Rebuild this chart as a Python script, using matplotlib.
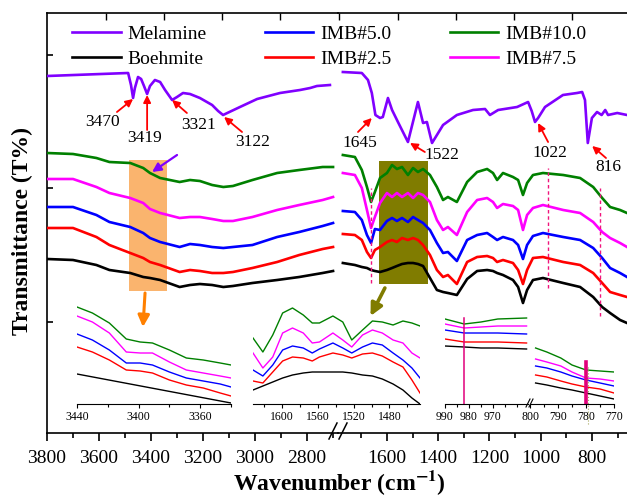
"""
FTIR spectra of melamine, boehmite and the IMB samples, drawn on a broken
wavenumber axis with three zoomed insets underneath
"""
import matplotlib
matplotlib.use('Agg')
import matplotlib.pyplot as plt
from matplotlib.patches import Rectangle
from matplotlib.lines import Line2D
from matplotlib.ticker import MultipleLocator

plt.rcParams['font.family'] = ['Liberation Serif', 'DejaVu Serif']
plt.rcParams['mathtext.fontset'] = 'stix'

W, H = 627, 499

# ---- main plot, high wavenumber part (3800 - 2700) ----
wn_left = [3800, 3700, 3610, 3560, 3480, 3430, 3404, 3365, 3290, 3250,
           3212, 3165, 3122, 3085, 3010, 2915, 2830, 2740, 2700]
green_left = [280, 279, 275, 271, 270, 265, 260, 255, 251, 253, 252, 248, 246, 247, 253, 260, 263, 266, 266]
magenta_left = [254, 254, 246, 240, 235, 230, 224, 220, 215, 216, 216, 214, 212, 212, 216, 223, 228, 233, 236]
blue_left = [226, 226, 218, 211, 206, 200, 195, 191, 186, 189, 188, 186, 185, 186, 188, 196, 201, 207, 210]
red_left = [205, 205, 196, 188, 180, 175, 171, 168, 161, 163, 162, 160, 160, 161, 165, 171, 178, 184, 186]
black_left = [174, 173, 168, 163, 160, 156, 155, 153, 146, 148, 149, 148, 146, 147, 150, 153, 156, 160, 162]

wn_mel_left = [3800, 3488, 3477, 3469, 3462, 3450, 3438, 3427, 3415, 3404, 3385, 3365, 3346, 3319,
               3300, 3277, 3250, 3212, 3165, 3142, 3123, 3058, 2992, 2904, 2827, 2788, 2762, 2712]
mel_left = [357, 360, 348, 335, 345, 356, 354, 347, 339, 347, 353, 351, 343, 333,
            336, 340, 339, 335, 328, 322, 318, 326, 334, 340, 343, 345, 347, 348]

# ---- main plot, fingerprint part (1800 - 660) ----
wn_right = [1772, 1725, 1698, 1678, 1662, 1647, 1627, 1600, 1580, 1561, 1541, 1518, 1498,
            1479, 1459, 1432, 1405, 1381, 1362, 1327, 1287, 1248, 1209, 1186, 1170, 1147,
            1108, 1088, 1069, 1053, 1030, 991, 912, 846, 795, 760, 729, 690, 663]
green_right = [278, 276, 263, 246, 231, 241, 255, 260, 268, 264, 266, 258, 265, 261, 264, 258, 246, 233, 236, 231,
               251, 261, 264, 260, 253, 260, 256, 253, 238, 250, 258, 260, 258, 255, 246, 235, 226, 223, 220]
magenta_right = [260, 258, 245, 223, 205, 216, 230, 240, 236, 240, 236, 240, 235, 240, 238, 231, 213, 203, 206, 198,
                 221, 233, 235, 231, 225, 229, 227, 223, 203, 218, 225, 228, 223, 220, 211, 201, 195, 190, 186]
blue_right = [222, 221, 213, 198, 190, 204, 203, 212, 215, 212, 215, 211, 216, 213, 210, 203, 190, 180, 181, 172,
              193, 198, 200, 196, 193, 196, 193, 188, 174, 188, 197, 200, 196, 193, 185, 175, 165, 160, 156]
red_right = [199, 198, 193, 181, 175, 183, 186, 191, 193, 191, 195, 193, 195, 193, 188, 178, 163, 156, 158, 149,
             171, 176, 177, 175, 171, 173, 170, 163, 149, 163, 175, 176, 171, 168, 160, 150, 141, 138, 136]
black_right = [170, 168, 166, 165, 163, 162, 161, 163, 165, 167, 169, 170, 170, 169, 167, 155, 143, 141, 140, 138,
               154, 162, 163, 162, 160, 158, 153, 146, 130, 143, 153, 155, 150, 146, 136, 126, 120, 113, 110]

wn_mel_right = [1772, 1698, 1674, 1659, 1645, 1627, 1616, 1596, 1580, 1557, 1518, 1479, 1459,
                1444, 1424, 1381, 1327, 1264, 1217, 1198, 1166, 1092, 1049, 1035, 1022, 1010,
                983, 913, 858, 838, 827, 816, 800, 780, 762, 748, 737, 701, 663]
mel_right = [361, 360, 353, 340, 318, 315, 316, 335, 323, 311, 291, 331, 310,
             311, 290, 308, 318, 323, 324, 318, 323, 326, 331, 322, 311, 315,
             326, 338, 340, 341, 333, 290, 315, 321, 318, 323, 318, 320, 318]

# ---- inset 1 (3440 - 3340) ----
wn_in1 = [3440, 3430, 3419, 3408, 3399, 3391, 3380, 3369, 3358, 3347, 3340]
green_in1 = [97, 91, 81, 65, 62, 61, 54, 46, 44, 41, 39]
magenta_in1 = [88, 82, 71, 52, 51, 51, 42, 34, 31, 28, 26]
blue_in1 = [70, 64, 54, 41, 41, 39, 32, 26, 23, 20, 17]
red_in1 = [57, 52, 44, 34, 33, 31, 24, 19, 16, 11, 8]
wn_black_in1 = [3440, 3340]
black_in1 = [30, 1]

# ---- inset 2 (1630 - 1445) ----
wn_in2 = [1632, 1621, 1610, 1599, 1588, 1576, 1566, 1558, 1543, 1532, 1522, 1510, 1499, 1488, 1476, 1465, 1455, 1446]
green_in2 = [66, 52, 69, 91, 96, 89, 81, 81, 88, 82, 64, 74, 83, 82, 79, 83, 81, 78]
magenta_in2 = [51, 36, 47, 71, 76, 71, 61, 62, 71, 64, 57, 69, 74, 71, 64, 61, 51, 46]
blue_in2 = [34, 28, 39, 54, 58, 56, 51, 55, 61, 56, 51, 57, 61, 59, 51, 44, 36, 26]
red_in2 = [23, 21, 32, 43, 47, 46, 43, 47, 51, 49, 46, 50, 51, 48, 42, 37, 24, 11]
black_in2 = [14, 18, 22, 26, 29, 31, 32, 32, 32, 32, 31, 29, 28, 25, 20, 14, 6, 0]

# ---- inset 3, two pieces (990 - 955 and 800 - 770) ----
wn_in3a = [990, 982, 975, 968, 956]
green_in3a = [85, 80, 82, 85, 86]
magenta_in3a = [80, 76, 77, 78, 78]
blue_in3a = [74, 71, 71, 71, 70]
red_in3a = [65, 62, 62, 62, 61]
black_in3a = [58, 57, 56, 56, 55]

wn_in3b = [798, 794, 789, 785, 780, 775, 770]
green_in3b = [56, 52, 46, 39, 34, 33, 32]
magenta_in3b = [45, 42, 38, 32, 26, 25, 23]
blue_in3b = [38, 36, 32, 28, 24, 21, 18]
red_in3b = [29, 27, 23, 20, 17, 15, 11]
black_in3b = [21, 19, 16, 14, 11, 8, 5]

MEL = '#8000ff'
GREEN = '#008000'
MAGENTA = '#ff00ff'
BLUE = '#0000ff'
RED = '#ff0000'
BLACK = 'black'
PINK = '#f0147c'


def box(x0, y0, x1, y1):
    """pixel box (origin top left) -> [left, bottom, width, height] in figure fraction"""
    return [x0 / W, 1 - y1 / H, (x1 - x0) / W, (y1 - y0) / H]


def fig_line(fig, xs, ys, **kw):
    fig.add_artist(Line2D([x / W for x in xs], [1 - y / H for y in ys],
                          transform=fig.transFigure, **kw))


def make_inset(fig, rect, xlim, major, minor):
    a = fig.add_axes(rect)
    a.set_facecolor('none')
    for side in ['top', 'left', 'right']:
        a.spines[side].set_visible(False)
    a.spines['bottom'].set_linewidth(0.8)
    a.set_xlim(xlim)
    a.set_ylim(0, 104)
    a.set_yticks([])
    a.set_xticks(major)
    a.xaxis.set_minor_locator(MultipleLocator(minor))
    a.tick_params(axis='x', which='major', direction='out', length=3, width=0.8, labelsize=8.5, pad=2)
    a.tick_params(axis='x', which='minor', direction='out', length=2, width=0.8)
    return a


fig = plt.figure(figsize=(W / 100, H / 100), dpi=100)

# frame axes only carries the evenly spaced ticks of the top border
axf = fig.add_axes(box(47, 13, 627, 433))
axf.set_facecolor('none')
for side in axf.spines.values():
    side.set_visible(False)
axf.set_xlim(0, 580)
axf.set_yticks([])
axf.xaxis.tick_top()
axf.set_xticks([59, 117, 175, 233, 292, 351, 409, 467, 525])
axf.tick_params(axis='x', direction='in', length=5, width=1, labeltop=False)

ax1 = fig.add_axes(box(47, 13, 338, 433))
ax2 = fig.add_axes(box(338, 13, 627, 433))
for ax in (ax1, ax2):
    ax.set_facecolor('none')
    ax.set_ylim(0, 420)
    for side in ax.spines.values():
        side.set_linewidth(1.2)
    ax.tick_params(axis='x', which='major', direction='out', length=6, width=1.2, labelsize=14, pad=6)
    ax.tick_params(axis='x', which='minor', direction='out', length=3.5, width=1.2)
ax1.spines['right'].set_visible(False)
ax2.spines['left'].set_visible(False)
ax2.spines['right'].set_visible(False)

ax1.set_xlim(3800, 2681)
ax1.set_xticks([3800, 3600, 3400, 3200, 3000, 2800])
ax1.xaxis.set_minor_locator(MultipleLocator(100))
ax1.set_yticks([378, 245, 111])
ax1.tick_params(axis='y', direction='in', length=4, width=1.2, labelleft=False)

ax2.set_xlim(1791, 663)
ax2.set_xticks([1600, 1400, 1200, 1000, 800])
ax2.xaxis.set_minor_locator(MultipleLocator(100))
ax2.set_yticks([])

# highlighted regions, curves go over them
ax1.add_patch(Rectangle((3338, 142), 147, 131, color='#fab46e', lw=0, zorder=1))
ax2.add_patch(Rectangle((1440, 149), 191, 123, color='#807c00', lw=0, zorder=1))

lw = 1.9
h_black, = ax1.plot(wn_left, black_left, color=BLACK, lw=lw, zorder=3)
h_red, = ax1.plot(wn_left, red_left, color=RED, lw=lw, zorder=3)
h_blue, = ax1.plot(wn_left, blue_left, color=BLUE, lw=lw, zorder=3)
h_mag, = ax1.plot(wn_left, magenta_left, color=MAGENTA, lw=lw, zorder=3)
h_green, = ax1.plot(wn_left, green_left, color=GREEN, lw=lw, zorder=3)
h_mel, = ax1.plot(wn_mel_left, mel_left, color=MEL, lw=lw, zorder=3)

ax2.plot(wn_right, black_right, color=BLACK, lw=lw, zorder=3)
ax2.plot(wn_right, red_right, color=RED, lw=lw, zorder=3)
ax2.plot(wn_right, blue_right, color=BLUE, lw=lw, zorder=3)
ax2.plot(wn_right, magenta_right, color=MAGENTA, lw=lw, zorder=3)
ax2.plot(wn_right, green_right, color=GREEN, lw=lw, zorder=3)
ax2.plot(wn_mel_right, mel_right, color=MEL, lw=lw, zorder=3)

# dashed guides in the fingerprint part
for x, y0, y1 in [(1662, 150, 245), (971, 145, 265), (768, 117, 245)]:
    ax2.plot([x, x], [y0, y1], color=PINK, lw=1, ls=(0, (2.5, 2)), zorder=4)

# red arrows with the melamine band positions
red_arrow = dict(arrowstyle='-|>', color='red', lw=1.3, mutation_scale=11, shrinkA=0, shrinkB=0)
left_marks = [('3470', (3469, 334), (3531, 321), (3588, 311)),
              ('3419', (3415, 338), (3415, 303), (3423, 295)),
              ('3321', (3319, 333), (3262, 320), (3219, 308)),
              ('3122', (3119, 316), (3050, 301), (3008, 291))]
right_marks = [('1645', (1659, 315), (1713, 301), (1705, 290)),
               ('1522', (1510, 290), (1452, 281), (1385, 278)),
               ('1022', (1010, 310), (971, 291), (963, 280)),
               ('816', (799, 287), (745, 275), (737, 266))]
for ax, marks in [(ax1, left_marks), (ax2, right_marks)]:
    for label, tip, start, pos in marks:
        ax.annotate('', xy=tip, xytext=start, arrowprops=red_arrow, zorder=5)
        ax.text(pos[0], pos[1], label, ha='center', va='center', fontsize=12.5, zorder=5)

# arrows pointing at the highlighted bands and down to the insets
ax1.annotate('', xy=(3396, 261), xytext=(3300, 278),
             arrowprops=dict(arrowstyle='-|>', color=MEL, lw=1.6, mutation_scale=13, shrinkA=0, shrinkB=0))
ax1.annotate('', xy=(3431, 106), xytext=(3423, 140),
             arrowprops=dict(arrowstyle='-|>', color='#ff8000', lw=2.2, mutation_scale=17, shrinkA=0, shrinkB=0))
ax2.annotate('', xy=(1664, 117), xytext=(1608, 145),
             arrowprops=dict(arrowstyle='-|>', color='#807c00', lw=2.6, mutation_scale=18, shrinkA=0, shrinkB=0))

# insets
ilw = 1.0
in1 = make_inset(fig, box(77, 300, 231, 404), (3440, 3340), [3440, 3400, 3360], 20)
in1.plot(wn_black_in1, black_in1, color=BLACK, lw=ilw)
in1.plot(wn_in1, red_in1, color=RED, lw=ilw)
in1.plot(wn_in1, blue_in1, color=BLUE, lw=ilw)
in1.plot(wn_in1, magenta_in1, color=MAGENTA, lw=ilw)
in1.plot(wn_in1, green_in1, color=GREEN, lw=ilw)

in2 = make_inset(fig, box(253, 300, 420, 404), (1632, 1446), [1600, 1560, 1520, 1480], 20)
in2.plot(wn_in2, black_in2, color=BLACK, lw=ilw)
in2.plot(wn_in2, red_in2, color=RED, lw=ilw)
in2.plot(wn_in2, blue_in2, color=BLUE, lw=ilw)
in2.plot(wn_in2, magenta_in2, color=MAGENTA, lw=ilw)
in2.plot(wn_in2, green_in2, color=GREEN, lw=ilw)

in3a = make_inset(fig, box(445, 300, 528, 404), (990, 955.4), [990, 980, 970], 5)
in3a.plot(wn_in3a, black_in3a, color=BLACK, lw=ilw)
in3a.plot(wn_in3a, red_in3a, color=RED, lw=ilw)
in3a.plot(wn_in3a, blue_in3a, color=BLUE, lw=ilw)
in3a.plot(wn_in3a, magenta_in3a, color=MAGENTA, lw=ilw)
in3a.plot(wn_in3a, green_in3a, color=GREEN, lw=ilw)
in3a.plot([982, 982], [0, 86], color='#e0007a', lw=1.1)

in3b = make_inset(fig, box(530, 300, 614, 404), (800, 770), [800, 790, 780, 770], 5)
in3b.plot(wn_in3b, black_in3b, color=BLACK, lw=ilw)
in3b.plot(wn_in3b, red_in3b, color=RED, lw=ilw)
in3b.plot(wn_in3b, blue_in3b, color=BLUE, lw=ilw)
in3b.plot(wn_in3b, magenta_in3b, color=MAGENTA, lw=ilw)
in3b.plot(wn_in3b, green_in3b, color=GREEN, lw=ilw)
in3b.plot([780, 780], [0, 42], color='#e0007a', lw=2.6)
in3b.plot([779.3, 779.3], [-20, 38], color='#a8a860', lw=0.8, ls=':', clip_on=False)

# axis break marks
fig_line(fig, [329, 337], [439, 423], color='black', lw=1.1)
fig_line(fig, [339, 347], [439, 423], color='black', lw=1.1)
fig_line(fig, [526, 530], [407, 399], color='black', lw=0.8)
fig_line(fig, [529, 533], [407, 399], color='black', lw=0.8)

handles = [h_mel, h_black, h_blue, h_red, h_green, h_mag]
labels = ['Melamine', 'Boehmite', 'IMB#5.0', 'IMB#2.5', 'IMB#10.0', 'IMB#7.5']
fig.legend(handles, labels, ncol=3, loc='upper left', bbox_to_anchor=(72 / W, 1 - 25 / H),
           frameon=False, fontsize=14, handlelength=2.5, handletextpad=0.35,
           columnspacing=3.0, labelspacing=0.38, borderpad=0, borderaxespad=0)

fig.text(339 / W, 1 - 483 / H, 'Wavenumber (cm$^{\\mathbf{-1}}$)', ha='center', va='center',
         fontsize=17, fontweight='bold')
fig.text(22 / W, 1 - 231 / H, 'Transmittance (T%)', ha='center', va='center', rotation=90,
         fontsize=17, fontweight='bold')

fig.savefig('out.png', dpi=100)
